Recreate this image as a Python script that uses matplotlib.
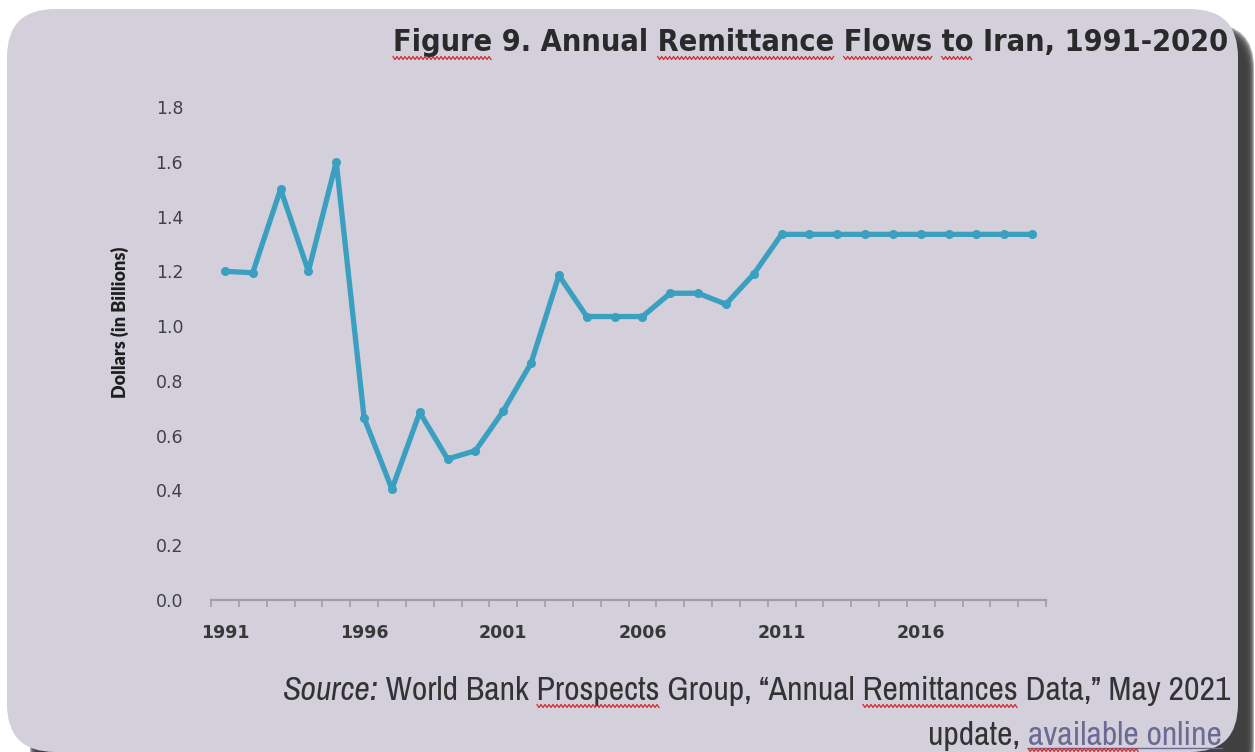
import numpy as np
import matplotlib
matplotlib.use("Agg")
import matplotlib.pyplot as plt
from matplotlib.patches import FancyBboxPatch
from matplotlib.transforms import IdentityTransform
from matplotlib.font_manager import FontProperties
from matplotlib.lines import Line2D

# ---------------- data ----------------
years = list(range(1991, 2021))
remittances = [1.20, 1.195, 1.50, 1.20, 1.60, 0.665, 0.405, 0.685, 0.515, 0.545,
               0.69, 0.865, 1.185, 1.035, 1.035, 1.035, 1.12, 1.12, 1.08, 1.19,
               1.335, 1.335, 1.335, 1.335, 1.335, 1.335, 1.335, 1.335, 1.335, 1.335]
xtick_labels = ["1991", "1996", "2001", "2006", "2011", "2016"]
yticks = [0.0, 0.2, 0.4, 0.6, 0.8, 1.0, 1.2, 1.4, 1.6, 1.8]
title = "Figure 9. Annual Remittance Flows to Iran, 1991-2020"
ylabel = "Dollars (in Billions)"

W, H = 1255, 752
DPI = 100
fig = plt.figure(figsize=(W / DPI, H / DPI), dpi=DPI, facecolor="white")
ID = IdentityTransform()
renderer = fig.canvas.get_renderer()

def Y(y):  # top-based pixel -> bottom-based display
    return H - y

PANEL = "#d3d0dc"

# ---------------- shadow + panel ----------------
sx0, sx1, sy0, sy1 = 30, 1254, 24, 790
for i, a in enumerate(np.linspace(0.12, 0.95, 9)):
    g = 8 - i
    sh = FancyBboxPatch((sx0 + g, Y(sy1) + g), (sx1 - sx0) - 2 * g, (sy1 - sy0) - 2 * g,
                        boxstyle="round,pad=0,rounding_size=44",
                        transform=ID, facecolor="#2b2b2b", edgecolor="none",
                        alpha=a * 0.4, zorder=0)
    fig.patches.append(sh)
panel = FancyBboxPatch((7, Y(752)), 1231, 752 - 9,
                       boxstyle="round,pad=0,rounding_size=48",
                       transform=ID, facecolor=PANEL, edgecolor="none", zorder=1)
fig.patches.append(panel)

# ---------------- axes ----------------
ax_l, ax_r, ax_t, ax_b = 211, 1046, 107, 600
ax = fig.add_axes([ax_l / W, (H - ax_b) / H, (ax_r - ax_l) / W, (ax_b - ax_t) / H])
ax.set_facecolor("none")
ax.set_zorder(3)

x = np.arange(len(years))
ax.plot(x, remittances, color="#3b9fbf", lw=3.8, marker="o", markersize=5.5,
        solid_joinstyle="round", solid_capstyle="round", zorder=4)

ax.set_xlim(-0.5, len(years) - 0.5)
ax.set_ylim(0, 1.8)
for s in ["top", "right", "left"]:
    ax.spines[s].set_visible(False)
ax.spines["bottom"].set_color("#9f9ea8")
ax.spines["bottom"].set_linewidth(1.6)

ax.set_yticks(yticks)
ax.set_yticklabels([f"{v:.1f}" for v in yticks], fontfamily="DejaVu Sans",
                   fontsize=12.5, color="#414141")
ax.tick_params(axis="y", length=0, pad=20)

major_pos = [years.index(int(t)) for t in xtick_labels]
ax.set_xticks(major_pos)
ax.set_xticklabels(xtick_labels, fontfamily="DejaVu Sans", fontweight="bold",
                   fontsize=12.5, color="#383838")
ax.tick_params(axis="x", which="major", length=0, pad=17)
ax.set_xticks(np.arange(-0.5, len(years)), minor=True)
ax.tick_params(axis="x", which="minor", length=5, width=1.2, color="#9f9ea8",
               direction="out")

fig.text(120 / W, 1 - 322 / H, ylabel, rotation=90, ha="center", va="center",
         fontfamily="Lato", fontweight="heavy", fontsize=13, color="#1e1e1e",
         zorder=5)

# ---------------- helpers ----------------
def text_w(s, fp):
    w, h, d = renderer.get_text_width_height_descent(s, fp, ismath=False)
    return w

def fit_size(s, fp, target):
    fp = fp.copy()
    fp.set_size(20)
    return 20 * target / text_w(s, fp)

def squiggle(x0, x1, y, amp=1.5, period=4.0, color="#d42a2a"):
    xs = np.arange(x0, x1, period / 2)
    ys = np.array([y + (amp if i % 2 else -amp) for i in range(len(xs))])
    fig.lines.append(Line2D(xs, Y(ys), transform=ID, color=color, lw=0.9,
                            zorder=6))

# ---------------- title ----------------
tfp = FontProperties(family="DejaVu Sans", weight="bold", stretch="condensed")
t_left, t_right = 393, 1232
tfp.set_size(fit_size(title, tfp, t_right - t_left))
fig.text(t_left, Y(51), title, transform=ID, fontproperties=tfp, ha="left",
         va="baseline", color="#2a2a2a", zorder=6)
for word in ["Figure", "Remittance", "Flows", "to"]:
    idx = title.index(" to ") + 1 if word == "to" else title.index(word)
    x0 = t_left + text_w(title[:idx], tfp)
    squiggle(x0, x0 + text_w(word, tfp), 58)

# ---------------- source ----------------
sfam = "Archivo Narrow"
sfp_i = FontProperties(family=sfam, style="italic")
sfp = FontProperties(family=sfam)
part_a = "Source:"
part_b = " World Bank Prospects Group, \u201cAnnual Remittances Data,\u201d May 2021"
sfp_i.set_size(20); sfp.set_size(20)
wtot = text_w(part_a, sfp_i) + text_w(part_b, sfp)
ssize = 20 * (1230 - 283) / wtot
sfp_i.set_size(ssize); sfp.set_size(ssize)
base1 = 700
wa = text_w(part_a, sfp_i)
fig.text(283, Y(base1), part_a, transform=ID, fontproperties=sfp_i, ha="left",
         va="baseline", color="#333333", zorder=6)
fig.text(283 + wa, Y(base1), part_b, transform=ID, fontproperties=sfp, ha="left",
         va="baseline", color="#333333", zorder=6)
for word in ["Prospects", "Remittances"]:
    idx = part_b.index(word)
    x0 = 283 + wa + text_w(part_b[:idx], sfp)
    squiggle(x0, x0 + text_w(word, sfp), base1 + 6)

base2 = 745
l2a = "update, "
l2b = "available online"
wb = text_w(l2b, sfp)
x_end = 1222
fig.text(x_end - wb, Y(base2), l2b, transform=ID, fontproperties=sfp, ha="left",
         va="baseline", color="#6a6a94", zorder=6)
fig.text(x_end - wb, Y(base2), l2a, transform=ID, fontproperties=sfp, ha="right",
         va="baseline", color="#333333", zorder=6)
fig.lines.append(Line2D([x_end - wb, x_end], [Y(base2 + 3), Y(base2 + 3)],
                        transform=ID, color="#6a6a94", lw=1.0, zorder=6))
x0 = x_end - wb
squiggle(x0, x0 + text_w("available", sfp), base2 + 5)

fig.savefig("out.png", dpi=DPI, facecolor="white")
